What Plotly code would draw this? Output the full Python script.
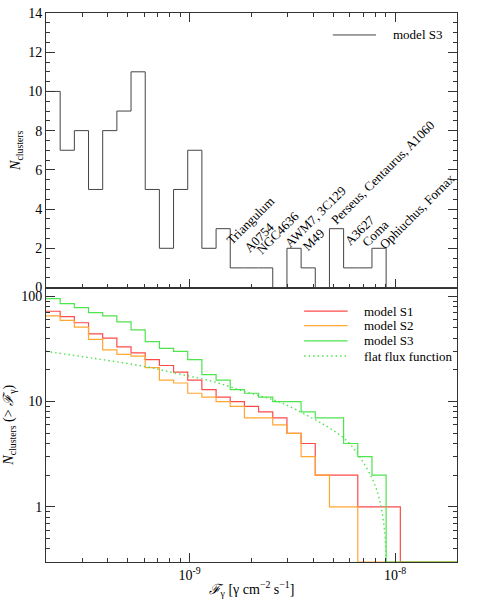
import numpy as np
import plotly.graph_objects as go

# ---------------- data ----------------
# flux bin edges [gamma cm^-2 s^-1] (29 log bins, 2e-10 .. 2e-8)
bin_edges = [2.000e-10, 2.344e-10, 2.748e-10, 3.221e-10, 3.775e-10, 4.425e-10,
             5.186e-10, 6.079e-10, 7.125e-10, 8.351e-10, 9.788e-10, 1.147e-9,
             1.345e-9, 1.576e-9, 1.847e-9, 2.165e-9, 2.538e-9, 2.975e-9,
             3.487e-9, 4.087e-9, 4.790e-9, 5.614e-9, 6.580e-9, 7.713e-9,
             9.040e-9, 1.060e-8, 1.242e-8, 1.456e-8, 1.706e-8, 2.000e-8]

# differential histogram, model S3 (top panel)
hist_s3 = [10, 7, 8, 5, 8, 9, 11, 5, 2, 5, 7, 2, 3, 1, 1, 1, 0, 2, 1, 0,
           3, 1, 1, 2, 0, 0, 0, 0, 0]

# cumulative counts N(>F) (bottom panel)
cum_s1 = [72, 64, 56, 44, 40, 33, 29, 25, 22, 19, 16, 13, 11, 10, 9, 8, 7, 5,
          4, 2, 2, 2, 1, 1, 1, 0, 0, 0, 0]
cum_s2 = [65, 59, 51, 39, 31, 28, 27, 21, 16, 15, 12, 11, 10, 9, 7, 7, 6, 5,
          3, 2, 1, 1, 0, 0, 0, 0, 0, 0, 0]
cum_s3 = [95, 85, 78, 70, 65, 57, 48, 37, 32, 30, 25, 18, 16, 13, 12, 11, 10,
          10, 8, 7, 7, 4, 3, 2, 0, 0, 0, 0, 0]

# flat flux function
flat_flux = [2.0e-10, 3.43e-10, 6.0e-10, 8.97e-10, 1.30e-9, 1.89e-9, 2.74e-9,
             3.98e-9, 4.80e-9, 5.78e-9, 6.71e-9, 7.79e-9, 8.40e-9, 8.88e-9, 9.04e-9]
flat_n = [30, 25.7, 21.6, 18.2, 15.5, 12.3, 9.9, 6.9, 5.6, 4.3, 3.0, 1.8, 1.16,
          0.6, 0.3]

# cluster labels in the top panel
cluster_labels = ["Triangulum", "A0754", "NGC4636", "AWM7, 3C129", "M49",
                  "Perseus, Centaurus, A1060", "A3627", "Coma", "Ophiuchus, Fornax"]

# tick labels
x_major = [1e-9, 1e-8]
x_major_text = ["10<sup>-9</sup>", "10<sup>-8</sup>"]
y_log_major = [1, 10, 100]
y_log_text = ["1", "10", "100"]

# ---------------- layout helpers ----------------
FONT = "Liberation Serif, Times New Roman, serif"
AX = "#333333"
Y_FLOOR = 0.3  # empty bins are drawn on the lower edge of the log axis


def step_xy(values, floor=None):
    ys = list(values) + [values[-1]]
    if floor is not None:
        ys = [v if v > 0 else floor for v in ys]
    return bin_edges, ys


x_minor = [m * 10.0 ** e for e in (-10, -9, -8) for m in range(2, 10)
           if 2e-10 <= m * 10.0 ** e <= 2e-8]
y_minor = [m * 10.0 ** e for e in (-1, 0, 1, 2) for m in range(2, 10)
           if 0.3 <= m * 10.0 ** e <= 120]

fig = go.Figure()

# top panel
hx, hy = step_xy(hist_s3)
fig.add_trace(go.Scatter(x=hx, y=hy, xaxis="x2", yaxis="y2", mode="lines",
                         line=dict(color="#444444", width=1, shape="hv"),
                         name="model S3"))

# bottom panel
colors = {"S1": "#ff4a4a", "S2": "#ffa733", "S3": "#4ee44e"}
for key, vals in (("S1", cum_s1), ("S2", cum_s2), ("S3", cum_s3)):
    cx, cy = step_xy(vals, floor=Y_FLOOR)
    fig.add_trace(go.Scatter(x=cx, y=cy, mode="lines", name="model " + key,
                             line=dict(color=colors[key], width=1.2, shape="hv")))
fig.add_trace(go.Scatter(x=flat_flux, y=flat_n, mode="lines",
                         name="flat flux function",
                         line=dict(color="#4ee44e", width=1.4, dash="1.5px,3px",
                                   shape="spline")))

# cluster label centres (flux, count) in the top panel
label_pos = [(1.977e-9, 3.41), (2.169e-9, 2.57), (2.692e-9, 2.79), (4.093e-9, 3.64),
             (4.012e-9, 2.45), (8.706e-9, 5.85), (6.710e-9, 2.91), (8.004e-9, 2.74),
             (1.275e-8, 3.89)]
for txt, (fx, cy) in zip(cluster_labels, label_pos):
    fig.add_annotation(x=np.log10(fx), y=cy, xref="x2", yref="y2", text=txt,
                       showarrow=False, textangle=-45, xanchor="center",
                       yanchor="middle", font=dict(family=FONT, size=13, color="black"))

# legends (drawn as keys in paper coordinates so the row spacing matches)
def legend_entry(x0, x1, y, text, color, dash="solid", width=1.2):
    fig.add_shape(type="line", xref="paper", yref="paper", x0=x0, x1=x1, y0=y, y1=y,
                  line=dict(color=color, width=width, dash=dash))
    fig.add_annotation(xref="paper", yref="paper", x=x1 + 0.036, y=y, text=text,
                       showarrow=False, xanchor="left", yanchor="middle",
                       font=dict(family=FONT, size=13, color="black"))

legend_entry(0.698, 0.803, 0.960, "model S3", "#444444", width=1)
legend_entry(0.628, 0.734, 0.457, "model S1", colors["S1"])
legend_entry(0.628, 0.734, 0.4304, "model S2", colors["S2"])
legend_entry(0.628, 0.734, 0.4026, "model S3", colors["S3"])
legend_entry(0.628, 0.734, 0.3752, "flat flux function", colors["S3"],
             dash="1.5px,3px", width=1.4)

common_x = dict(type="log", range=[np.log10(2e-10), np.log10(2e-8)],
                showline=True, linecolor=AX, linewidth=1, ticks="inside",
                ticklen=9, tickcolor=AX, tickwidth=1, tickvals=x_major,
                ticktext=x_major_text, showgrid=False, zeroline=False,
                automargin=False,
                minor=dict(tickvals=x_minor, ticks="inside", ticklen=4,
                           tickcolor=AX, showgrid=False))

fig.update_layout(
    width=477, height=600,
    margin=dict(l=46, r=20, t=13, b=38),
    paper_bgcolor="white", plot_bgcolor="white",
    font=dict(family=FONT, size=14, color="black"),
    showlegend=False,
    xaxis=dict(common_x, domain=[0, 1], anchor="y", mirror=True,
               title=dict(text="<i>ℱ</i><sub>γ</sub> [γ cm<sup>−2</sup> s<sup>−1</sup>]",
                          standoff=2, font=dict(size=14))),
    xaxis2=dict(common_x, domain=[0, 1], anchor="y2", mirror="allticks",
                showticklabels=False, matches="x"),
    yaxis=dict(type="log", range=[np.log10(Y_FLOOR), np.log10(121)], domain=[0, 0.5],
               showline=True, linecolor=AX, mirror="allticks", ticks="inside",
               ticklen=9, tickcolor=AX, tickvals=y_log_major, ticktext=y_log_text,
               showgrid=False, zeroline=False, automargin=False,
               minor=dict(tickvals=y_minor, ticks="inside", ticklen=4,
                          tickcolor=AX, showgrid=False),
               title=dict(text="<i>N</i><sub>clusters</sub> (> <i>ℱ</i><sub>γ</sub>)",
                          standoff=4, font=dict(size=14))),
    yaxis2=dict(range=[0, 14], domain=[0.5, 1], anchor="x2",
                showline=True, linecolor=AX, mirror="allticks", ticks="inside",
                ticklen=9, tickcolor=AX, dtick=2, tick0=0, automargin=False,
                showgrid=False, zeroline=False,
                minor=dict(dtick=0.5, ticks="inside", ticklen=4, tickcolor=AX,
                           showgrid=False),
                title=dict(text="<i>N</i><sub>clusters</sub>", standoff=4,
                           font=dict(size=14))),
)

fig.write_html("out.html", config={"displayModeBar": False},
               post_script="document.body.style.margin='0px';")
